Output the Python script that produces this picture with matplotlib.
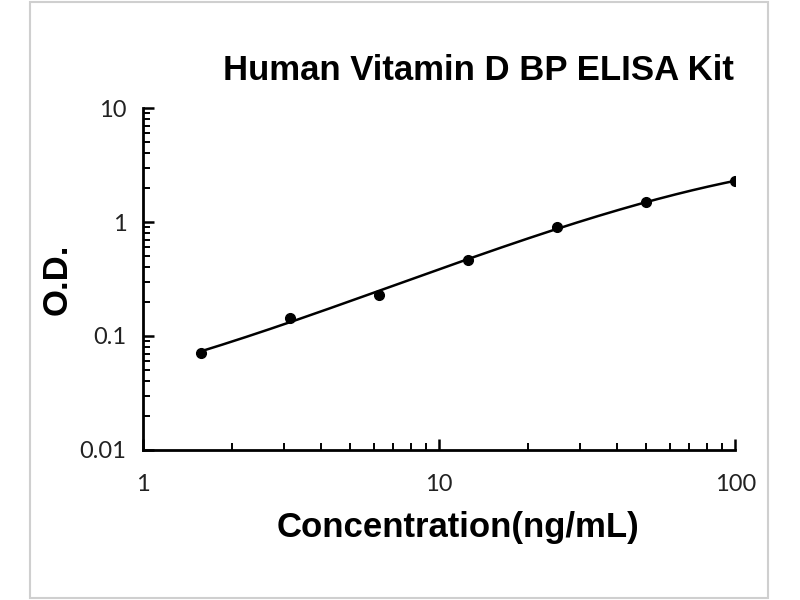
import numpy as np
import matplotlib
matplotlib.use('Agg')
import matplotlib.pyplot as plt
from matplotlib.patches import Rectangle

# standard curve data
concentration = [1.5625, 3.125, 6.25, 12.5, 25, 50, 100]
od = [0.071, 0.145, 0.23, 0.465, 0.9, 1.5, 2.28]

title = 'Human Vitamin D BP ELISA Kit'
x_label = 'Concentration(ng/mL)'
y_label = 'O.D.'
x_ticks = [1, 10, 100]
x_tick_labels = ['1', '10', '100']
y_ticks = [0.01, 0.1, 1, 10]
y_tick_labels = ['0.01', '0.1', '1', '10']

fig = plt.figure(figsize=(8, 6), dpi=100)
ax = fig.add_axes([0.179, 0.25, 0.74, 0.57])

# light frame around the whole chart
fig.patches.append(Rectangle((0.038, 0.003), 0.922, 0.994, transform=fig.transFigure,
                             fill=False, edgecolor='#cfcfcf', linewidth=1.5))

# smooth trendline fitted in log-log space
lx = np.log10(concentration)
ly = np.log10(od)
coef = np.polyfit(lx, ly, 3)
xs = np.linspace(lx[0], lx[-1], 200)
ax.plot(10 ** xs, 10 ** np.polyval(coef, xs), color='black', linewidth=1.8)
ax.plot(concentration, od, 'o', color='black', markersize=7)

ax.set_xscale('log')
ax.set_yscale('log')
ax.set_xlim(1, 100)
ax.set_ylim(0.01, 10)

ax.spines['top'].set_visible(False)
ax.spines['right'].set_visible(False)
ax.spines['left'].set_linewidth(2)
ax.spines['bottom'].set_linewidth(2)

ax.set_xticks(x_ticks)
ax.set_xticklabels(x_tick_labels)
ax.set_yticks(y_ticks)
ax.set_yticklabels(y_tick_labels)
ax.tick_params(which='major', direction='in', length=8, width=1.8,
               labelsize=17, colors='black')
ax.tick_params(which='minor', direction='in', length=5, width=1.4)
ax.tick_params(axis='x', which='major', pad=17)
ax.tick_params(axis='y', which='major', pad=12)
for lab in ax.get_xticklabels() + ax.get_yticklabels():
    lab.set_family('Lato')
    lab.set_color('#222222')

fig.text(0.5725, 0.12, x_label, fontsize=25, fontweight='bold', family='Liberation Sans',
         ha='center', va='center')
fig.text(0.071, 0.535, y_label, fontsize=25, fontweight='bold', family='Liberation Sans',
         ha='center', va='center', rotation=90)
fig.text(0.598, 0.883, title, fontsize=25, fontweight='bold', family='Liberation Sans',
         ha='center', va='center')

fig.savefig('out.png', dpi=100)
